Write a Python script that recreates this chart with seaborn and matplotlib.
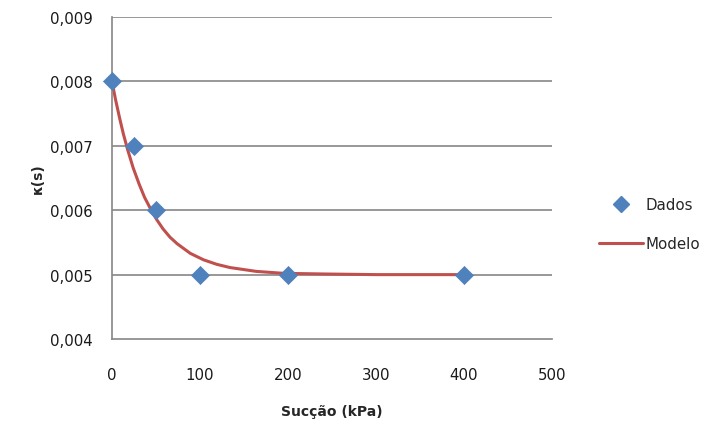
import matplotlib

matplotlib.use("Agg")
import matplotlib.pyplot as plt
from matplotlib.lines import Line2D
import pandas as pd
import seaborn as sns

# dados medidos
succao = [0, 25, 50, 100, 200, 400]
kappa = [0.008, 0.007, 0.006, 0.005, 0.005, 0.005]

# curva do modelo
succao_modelo = [0, 4, 9, 13, 18, 24, 31, 37, 45, 51, 58, 66, 74, 89, 104, 119, 134,
                 164, 195, 240, 300, 400]
kappa_modelo = [0.00800, 0.00772, 0.00741, 0.00718, 0.00693, 0.00666, 0.00640, 0.00620,
                0.00599, 0.00585, 0.00571, 0.00558, 0.00548, 0.00533, 0.00523, 0.00516,
                0.00511, 0.00505, 0.00502, 0.00501, 0.00500, 0.00500]

azul = "#4F81BD"
vermelho = "#C0504D"
cinza = "#868686"

sns.set_theme(style="white")
plt.rcParams["font.family"] = ["DejaVu Sans"]

fig = plt.figure(figsize=(7.17, 4.27), dpi=100)
ax = fig.add_axes([0.1562, 0.2037, 0.6137, 0.7541])

df_dados = pd.DataFrame({"x": succao, "y": kappa})
df_modelo = pd.DataFrame({"x": succao_modelo, "y": kappa_modelo})

for v in [0.005, 0.006, 0.007, 0.008, 0.009]:
    ax.axhline(v, color=cinza, lw=1.2, zorder=0)

sns.lineplot(data=df_modelo, x="x", y="y", ax=ax, color=vermelho, lw=2.2, zorder=2)
sns.scatterplot(data=df_dados, x="x", y="y", ax=ax, marker="D", s=85,
                color=azul, edgecolor=azul, linewidth=0.5, zorder=3, clip_on=False)

ax.set_xlim(0, 500)
ax.set_ylim(0.004, 0.009)
ax.set_xticks([0, 100, 200, 300, 400, 500])
ax.set_yticks([0.004, 0.005, 0.006, 0.007, 0.008, 0.009])
ax.yaxis.set_major_formatter(plt.FuncFormatter(lambda v, _: f"{v:.3f}".replace(".", ",")))
ax.tick_params(axis="x", length=0, pad=20, labelsize=10.8, colors="#1a1a1a")
ax.tick_params(axis="y", length=0, pad=14, labelsize=10.8, colors="#1a1a1a")

for s in ["top", "right"]:
    ax.spines[s].set_visible(False)
for s in ["left", "bottom"]:
    ax.spines[s].set_color(cinza)
    ax.spines[s].set_linewidth(1.2)

ax.set_xlabel("Sucção (kPa)", fontsize=10, fontweight="bold", va="center")
ax.set_ylabel("κ(s)", fontsize=10, fontweight="bold", va="center")
ax.xaxis.set_label_coords(0.5, -0.224)
ax.yaxis.set_label_coords(-0.168, 0.5)

handles = [
    Line2D([], [], marker="D", color=azul, lw=0, markersize=8),
    Line2D([], [], color=vermelho, lw=2.2),
]
fig.legend(handles, ["Dados", "Modelo"], loc="center left", bbox_to_anchor=(0.836, 0.472),
           frameon=False, fontsize=10.8, handlelength=2.9, handletextpad=0.15,
           labelspacing=1.6, borderpad=0, borderaxespad=0)

plt.savefig("out.png", dpi=100)
plt.close()
